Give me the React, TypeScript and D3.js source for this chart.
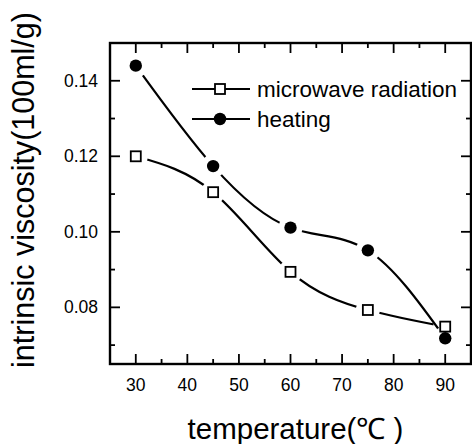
import React, { useEffect, useRef } from 'react';
import * as d3 from 'd3';

const temperatures = [30, 45, 60, 75, 90];
const microwave = [0.120, 0.1105, 0.0894, 0.0793, 0.0749];
const heating = [0.144, 0.1174, 0.1011, 0.0951, 0.0718];
const xTicks = [30, 40, 50, 60, 70, 80, 90];
const xMinor = [35, 45, 55, 65, 75, 85];
const yTicks = [0.08, 0.10, 0.12, 0.14];
const yMinor = [0.07, 0.09, 0.11, 0.13];
const legendLabels = ['microwave radiation', 'heating'];

export default function App() {
  const svgRef = useRef<SVGSVGElement | null>(null);

  useEffect(() => {
    if (!svgRef.current) return;
    document.body.style.margin = '0';
    const svg = d3.select(svgRef.current);
    svg.selectAll('*').remove();

    const width = 472;
    const height = 444;
    const margin = { top: 43, right: 1, bottom: 80, left: 110 };
    const font = 'Liberation Sans, Arial, sans-serif';

    const x = d3.scaleLinear().domain([25, 95]).range([margin.left, width - margin.right]);
    const y = d3.scaleLinear().domain([0.065, 0.150]).range([height - margin.bottom, margin.top]);

    const x0 = margin.left, x1 = width - margin.right;
    const y0 = height - margin.bottom, y1 = margin.top;

    const series = [
      { name: 'mw', values: microwave, shape: 'square' },
      { name: 'ht', values: heating, shape: 'circle' },
    ];

    // masks so each curve stops short of its own markers
    const defs = svg.append('defs');
    series.forEach(s => {
      const m = defs.append('mask').attr('id', `gap-${s.name}`).attr('maskUnits', 'userSpaceOnUse')
        .attr('x', 0).attr('y', 0).attr('width', width).attr('height', height);
      m.append('rect').attr('width', width).attr('height', height).attr('fill', 'white');
      temperatures.forEach((t, i) => {
        m.append('circle').attr('cx', x(t)).attr('cy', y(s.values[i])).attr('r', 12).attr('fill', 'black');
      });
    });

    const line = d3.line<number>()
      .x((_, i) => x(temperatures[i]))
      .y(d => y(d))
      .curve(d3.curveNatural);

    series.forEach(s => {
      svg.append('path')
        .datum(s.values)
        .attr('fill', 'none')
        .attr('stroke', '#000')
        .attr('stroke-width', 2.2)
        .attr('mask', `url(#gap-${s.name})`)
        .attr('d', line);
    });

    const drawMarker = (shape: string, cx: number, cy: number) => {
      if (shape === 'square') {
        svg.append('rect').attr('x', cx - 5).attr('y', cy - 5).attr('width', 10).attr('height', 10)
          .attr('fill', '#fff').attr('stroke', '#000').attr('stroke-width', 1.8);
      } else {
        svg.append('circle').attr('cx', cx).attr('cy', cy).attr('r', 6.2).attr('fill', '#000');
      }
    };

    series.forEach(s => {
      temperatures.forEach((t, i) => drawMarker(s.shape, x(t), y(s.values[i])));
    });

    // frame
    svg.append('rect')
      .attr('x', x0).attr('y', y1).attr('width', x1 - x0).attr('height', y0 - y1)
      .attr('fill', 'none').attr('stroke', '#000').attr('stroke-width', 2.4);

    const ticks = svg.append('g').attr('stroke', '#000').attr('stroke-width', 1.8);
    xTicks.forEach(t => {
      ticks.append('line').attr('x1', x(t)).attr('x2', x(t)).attr('y1', y0).attr('y2', y0 - 10);
      ticks.append('line').attr('x1', x(t)).attr('x2', x(t)).attr('y1', y1).attr('y2', y1 + 10);
    });
    xMinor.forEach(t => {
      ticks.append('line').attr('x1', x(t)).attr('x2', x(t)).attr('y1', y0).attr('y2', y0 - 5);
      ticks.append('line').attr('x1', x(t)).attr('x2', x(t)).attr('y1', y1).attr('y2', y1 + 5);
    });
    yTicks.forEach(t => {
      ticks.append('line').attr('x1', x0).attr('x2', x0 + 10).attr('y1', y(t)).attr('y2', y(t));
      ticks.append('line').attr('x1', x1).attr('x2', x1 - 10).attr('y1', y(t)).attr('y2', y(t));
    });
    yMinor.forEach(t => {
      ticks.append('line').attr('x1', x0).attr('x2', x0 + 5).attr('y1', y(t)).attr('y2', y(t));
      ticks.append('line').attr('x1', x1).attr('x2', x1 - 5).attr('y1', y(t)).attr('y2', y(t));
    });

    xTicks.forEach(t => {
      svg.append('text').attr('x', x(t)).attr('y', y0 + 27)
        .attr('text-anchor', 'middle').attr('font-family', font).attr('font-size', 17.5)
        .text(String(t));
    });
    yTicks.forEach(t => {
      svg.append('text').attr('x', x0 - 12).attr('y', y(t)).attr('dy', '0.35em')
        .attr('text-anchor', 'end').attr('font-family', font).attr('font-size', 17.5)
        .text(d3.format('.2f')(t));
    });

    // legend
    const legendRows = [89, 119];
    legendLabels.forEach((label, i) => {
      const ly = legendRows[i];
      svg.append('line').attr('x1', 192).attr('x2', 250).attr('y1', ly).attr('y2', ly)
        .attr('stroke', '#000').attr('stroke-width', 2);
      drawMarker(series[i].shape, 220, ly);
      svg.append('text').attr('x', 257).attr('y', ly).attr('dy', '0.35em')
        .attr('font-family', font).attr('font-size', 22.5).text(label);
    });

    // axis titles
    svg.append('text')
      .attr('x', (x0 + x1) / 2 + 5).attr('y', 439)
      .attr('text-anchor', 'middle').attr('font-family', font).attr('font-size', 29.5)
      .text('temperature(℃ )');
    svg.append('text')
      .attr('transform', `translate(34,190) rotate(-90)`)
      .attr('text-anchor', 'middle').attr('font-family', font).attr('font-size', 30.5)
      .text('intrinsic viscosity(100ml/g)');
  }, []);

  return <svg ref={svgRef} width={472} height={444} style={{ display: 'block', background: '#fff' }}></svg>;
}
